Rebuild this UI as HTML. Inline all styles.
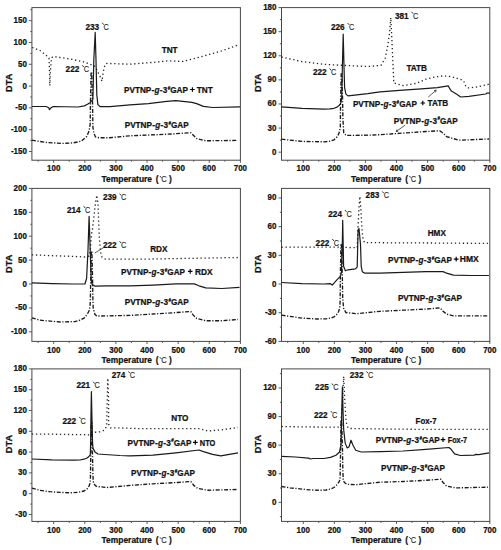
<!DOCTYPE html>
<html><head><meta charset="utf-8"><style>
html,body{margin:0;padding:0;background:#fff;}
svg{display:block;}
text{font-family:"Liberation Sans", sans-serif;fill:#111;font-weight:bold;stroke:#111;stroke-width:0.22;}
text.c{font-weight:normal;fill:#222;stroke:#222;stroke-width:0.1;}
</style></head><body>
<svg width="501" height="550" viewBox="0 0 501 550">
<rect width="501" height="550" fill="#fff"/>
<rect x="31.9" y="7.6" width="208.5" height="152.6" fill="none" stroke="#474747" stroke-width="1"/>
<text transform="translate(53.68,171.4) scale(1,1.08)" font-size="8" text-anchor="middle">100</text>
<text transform="translate(84.8,171.4) scale(1,1.08)" font-size="8" text-anchor="middle">200</text>
<text transform="translate(115.92,171.4) scale(1,1.08)" font-size="8" text-anchor="middle">300</text>
<text transform="translate(147.04,171.4) scale(1,1.08)" font-size="8" text-anchor="middle">400</text>
<text transform="translate(178.16,171.4) scale(1,1.08)" font-size="8" text-anchor="middle">500</text>
<text transform="translate(209.28,171.4) scale(1,1.08)" font-size="8" text-anchor="middle">600</text>
<text transform="translate(240.4,171.4) scale(1,1.08)" font-size="8" text-anchor="middle">700</text>
<text transform="translate(26.9,153.98) scale(1,1.08)" font-size="8" text-anchor="end">-150</text>
<text transform="translate(26.9,132.18) scale(1,1.08)" font-size="8" text-anchor="end">-100</text>
<text transform="translate(26.9,110.38) scale(1,1.08)" font-size="8" text-anchor="end">-50</text>
<text transform="translate(26.9,88.58) scale(1,1.08)" font-size="8" text-anchor="end">0</text>
<text transform="translate(26.9,66.78) scale(1,1.08)" font-size="8" text-anchor="end">50</text>
<text transform="translate(26.9,44.98) scale(1,1.08)" font-size="8" text-anchor="end">100</text>
<text transform="translate(26.9,23.18) scale(1,1.08)" font-size="8" text-anchor="end">150</text>
<path d="M38.12 160.2v1.5M53.68 160.2v2.6M69.24 160.2v1.5M84.8 160.2v2.6M100.36 160.2v1.5M115.92 160.2v2.6M131.48 160.2v1.5M147.04 160.2v2.6M162.6 160.2v1.5M178.16 160.2v2.6M193.72 160.2v1.5M209.28 160.2v2.6M224.84 160.2v1.5M240.4 160.2v2.6M28.9 151.48h3M28.9 129.68h3M28.9 107.88h3M28.9 86.08h3M28.9 64.28h3M28.9 42.48h3M28.9 20.68h3M30.3 140.58h1.6M30.3 118.78h1.6M30.3 96.98h1.6M30.3 75.18h1.6M30.3 53.38h1.6M30.3 31.58h1.6M30.3 9.78h1.6" stroke="#474747" stroke-width="0.9" fill="none"/>
<text transform="translate(101.55,182.2)" font-size="8.4" textLength="50.5" lengthAdjust="spacingAndGlyphs">Temperature</text>
<text transform="translate(155.75,182.2)" font-size="8.4">(</text>
<path d="M160.15 176.32L161.15 177.41" stroke="#222" stroke-width="0.95" stroke-linecap="round"/>
<text class="c" transform="translate(161.25,182.2) scale(0.9,1)" font-size="8.4">C</text>
<text transform="translate(169.05,182.2)" font-size="8.4">)</text>
<text transform="translate(11.5,82.8) rotate(-90)" font-size="9.2" text-anchor="middle">DTA</text>
<rect x="281.5" y="7.6" width="208.3" height="152.6" fill="none" stroke="#474747" stroke-width="1"/>
<text transform="translate(303.26,171.4) scale(1,1.08)" font-size="8" text-anchor="middle">100</text>
<text transform="translate(334.35,171.4) scale(1,1.08)" font-size="8" text-anchor="middle">200</text>
<text transform="translate(365.44,171.4) scale(1,1.08)" font-size="8" text-anchor="middle">300</text>
<text transform="translate(396.53,171.4) scale(1,1.08)" font-size="8" text-anchor="middle">400</text>
<text transform="translate(427.62,171.4) scale(1,1.08)" font-size="8" text-anchor="middle">500</text>
<text transform="translate(458.71,171.4) scale(1,1.08)" font-size="8" text-anchor="middle">600</text>
<text transform="translate(489.8,171.4) scale(1,1.08)" font-size="8" text-anchor="middle">700</text>
<text transform="translate(276.5,154.67) scale(1,1.08)" font-size="8" text-anchor="end">0</text>
<text transform="translate(276.5,130.57) scale(1,1.08)" font-size="8" text-anchor="end">30</text>
<text transform="translate(276.5,106.48) scale(1,1.08)" font-size="8" text-anchor="end">60</text>
<text transform="translate(276.5,82.38) scale(1,1.08)" font-size="8" text-anchor="end">90</text>
<text transform="translate(276.5,58.29) scale(1,1.08)" font-size="8" text-anchor="end">120</text>
<text transform="translate(276.5,34.19) scale(1,1.08)" font-size="8" text-anchor="end">150</text>
<text transform="translate(276.5,10.1) scale(1,1.08)" font-size="8" text-anchor="end">180</text>
<path d="M287.72 160.2v1.5M303.26 160.2v2.6M318.81 160.2v1.5M334.35 160.2v2.6M349.9 160.2v1.5M365.44 160.2v2.6M380.99 160.2v1.5M396.53 160.2v2.6M412.08 160.2v1.5M427.62 160.2v2.6M443.17 160.2v1.5M458.71 160.2v2.6M474.26 160.2v1.5M489.8 160.2v2.6M278.5 152.17h3M278.5 128.07h3M278.5 103.98h3M278.5 79.88h3M278.5 55.79h3M278.5 31.69h3M278.5 7.6h3M279.9 140.12h1.6M279.9 116.03h1.6M279.9 91.93h1.6M279.9 67.84h1.6M279.9 43.74h1.6M279.9 19.65h1.6" stroke="#474747" stroke-width="0.9" fill="none"/>
<text transform="translate(351.05,182.2)" font-size="8.4" textLength="50.5" lengthAdjust="spacingAndGlyphs">Temperature</text>
<text transform="translate(405.25,182.2)" font-size="8.4">(</text>
<path d="M409.65 176.32L410.65 177.41" stroke="#222" stroke-width="0.95" stroke-linecap="round"/>
<text class="c" transform="translate(410.75,182.2) scale(0.9,1)" font-size="8.4">C</text>
<text transform="translate(418.55,182.2)" font-size="8.4">)</text>
<text transform="translate(261.1,82.8) rotate(-90)" font-size="9.2" text-anchor="middle">DTA</text>
<rect x="31.9" y="188.4" width="208.5" height="153" fill="none" stroke="#474747" stroke-width="1"/>
<text transform="translate(53.68,352.9) scale(1,1.08)" font-size="8" text-anchor="middle">100</text>
<text transform="translate(84.8,352.9) scale(1,1.08)" font-size="8" text-anchor="middle">200</text>
<text transform="translate(115.92,352.9) scale(1,1.08)" font-size="8" text-anchor="middle">300</text>
<text transform="translate(147.04,352.9) scale(1,1.08)" font-size="8" text-anchor="middle">400</text>
<text transform="translate(178.16,352.9) scale(1,1.08)" font-size="8" text-anchor="middle">500</text>
<text transform="translate(209.28,352.9) scale(1,1.08)" font-size="8" text-anchor="middle">600</text>
<text transform="translate(240.4,352.9) scale(1,1.08)" font-size="8" text-anchor="middle">700</text>
<text transform="translate(26.9,334.34) scale(1,1.08)" font-size="8" text-anchor="end">-100</text>
<text transform="translate(26.9,310.43) scale(1,1.08)" font-size="8" text-anchor="end">-50</text>
<text transform="translate(26.9,286.52) scale(1,1.08)" font-size="8" text-anchor="end">0</text>
<text transform="translate(26.9,262.62) scale(1,1.08)" font-size="8" text-anchor="end">50</text>
<text transform="translate(26.9,238.71) scale(1,1.08)" font-size="8" text-anchor="end">100</text>
<text transform="translate(26.9,214.81) scale(1,1.08)" font-size="8" text-anchor="end">150</text>
<text transform="translate(26.9,190.9) scale(1,1.08)" font-size="8" text-anchor="end">200</text>
<path d="M38.12 341.4v1.5M53.68 341.4v2.6M69.24 341.4v1.5M84.8 341.4v2.6M100.36 341.4v1.5M115.92 341.4v2.6M131.48 341.4v1.5M147.04 341.4v2.6M162.6 341.4v1.5M178.16 341.4v2.6M193.72 341.4v1.5M209.28 341.4v2.6M224.84 341.4v1.5M240.4 341.4v2.6M28.9 331.84h3M28.9 307.93h3M28.9 284.02h3M28.9 260.12h3M28.9 236.21h3M28.9 212.31h3M28.9 188.4h3M30.3 319.88h1.6M30.3 295.98h1.6M30.3 272.07h1.6M30.3 248.17h1.6M30.3 224.26h1.6M30.3 200.35h1.6" stroke="#474747" stroke-width="0.9" fill="none"/>
<text transform="translate(101.55,363.4)" font-size="8.4" textLength="50.5" lengthAdjust="spacingAndGlyphs">Temperature</text>
<text transform="translate(155.75,363.4)" font-size="8.4">(</text>
<path d="M160.15 357.52L161.15 358.61" stroke="#222" stroke-width="0.95" stroke-linecap="round"/>
<text class="c" transform="translate(161.25,363.4) scale(0.9,1)" font-size="8.4">C</text>
<text transform="translate(169.05,363.4)" font-size="8.4">)</text>
<text transform="translate(11.5,263.8) rotate(-90)" font-size="9.2" text-anchor="middle">DTA</text>
<rect x="281.5" y="188.4" width="208.3" height="153" fill="none" stroke="#474747" stroke-width="1"/>
<text transform="translate(303.26,352.9) scale(1,1.08)" font-size="8" text-anchor="middle">100</text>
<text transform="translate(334.35,352.9) scale(1,1.08)" font-size="8" text-anchor="middle">200</text>
<text transform="translate(365.44,352.9) scale(1,1.08)" font-size="8" text-anchor="middle">300</text>
<text transform="translate(396.53,352.9) scale(1,1.08)" font-size="8" text-anchor="middle">400</text>
<text transform="translate(427.62,352.9) scale(1,1.08)" font-size="8" text-anchor="middle">500</text>
<text transform="translate(458.71,352.9) scale(1,1.08)" font-size="8" text-anchor="middle">600</text>
<text transform="translate(489.8,352.9) scale(1,1.08)" font-size="8" text-anchor="middle">700</text>
<text transform="translate(276.5,343.9) scale(1,1.08)" font-size="8" text-anchor="end">-60</text>
<text transform="translate(276.5,315.21) scale(1,1.08)" font-size="8" text-anchor="end">-30</text>
<text transform="translate(276.5,286.52) scale(1,1.08)" font-size="8" text-anchor="end">0</text>
<text transform="translate(276.5,257.84) scale(1,1.08)" font-size="8" text-anchor="end">30</text>
<text transform="translate(276.5,229.15) scale(1,1.08)" font-size="8" text-anchor="end">60</text>
<text transform="translate(276.5,200.46) scale(1,1.08)" font-size="8" text-anchor="end">90</text>
<path d="M287.72 341.4v1.5M303.26 341.4v2.6M318.81 341.4v1.5M334.35 341.4v2.6M349.9 341.4v1.5M365.44 341.4v2.6M380.99 341.4v1.5M396.53 341.4v2.6M412.08 341.4v1.5M427.62 341.4v2.6M443.17 341.4v1.5M458.71 341.4v2.6M474.26 341.4v1.5M489.8 341.4v2.6M278.5 341.4h3M278.5 312.71h3M278.5 284.02h3M278.5 255.34h3M278.5 226.65h3M278.5 197.96h3M279.9 327.06h1.6M279.9 298.37h1.6M279.9 269.68h1.6M279.9 240.99h1.6M279.9 212.31h1.6" stroke="#474747" stroke-width="0.9" fill="none"/>
<text transform="translate(351.05,363.4)" font-size="8.4" textLength="50.5" lengthAdjust="spacingAndGlyphs">Temperature</text>
<text transform="translate(405.25,363.4)" font-size="8.4">(</text>
<path d="M409.65 357.52L410.65 358.61" stroke="#222" stroke-width="0.95" stroke-linecap="round"/>
<text class="c" transform="translate(410.75,363.4) scale(0.9,1)" font-size="8.4">C</text>
<text transform="translate(418.55,363.4)" font-size="8.4">)</text>
<text transform="translate(261.1,263.8) rotate(-90)" font-size="9.2" text-anchor="middle">DTA</text>
<rect x="31.9" y="368.9" width="208.5" height="152.5" fill="none" stroke="#474747" stroke-width="1"/>
<text transform="translate(53.68,533.2) scale(1,1.08)" font-size="8" text-anchor="middle">100</text>
<text transform="translate(84.8,533.2) scale(1,1.08)" font-size="8" text-anchor="middle">200</text>
<text transform="translate(115.92,533.2) scale(1,1.08)" font-size="8" text-anchor="middle">300</text>
<text transform="translate(147.04,533.2) scale(1,1.08)" font-size="8" text-anchor="middle">400</text>
<text transform="translate(178.16,533.2) scale(1,1.08)" font-size="8" text-anchor="middle">500</text>
<text transform="translate(209.28,533.2) scale(1,1.08)" font-size="8" text-anchor="middle">600</text>
<text transform="translate(240.4,533.2) scale(1,1.08)" font-size="8" text-anchor="middle">700</text>
<text transform="translate(26.9,516.97) scale(1,1.08)" font-size="8" text-anchor="end">-30</text>
<text transform="translate(26.9,496.17) scale(1,1.08)" font-size="8" text-anchor="end">0</text>
<text transform="translate(26.9,475.38) scale(1,1.08)" font-size="8" text-anchor="end">30</text>
<text transform="translate(26.9,454.58) scale(1,1.08)" font-size="8" text-anchor="end">60</text>
<text transform="translate(26.9,433.79) scale(1,1.08)" font-size="8" text-anchor="end">90</text>
<text transform="translate(26.9,412.99) scale(1,1.08)" font-size="8" text-anchor="end">120</text>
<text transform="translate(26.9,392.2) scale(1,1.08)" font-size="8" text-anchor="end">150</text>
<text transform="translate(26.9,371.4) scale(1,1.08)" font-size="8" text-anchor="end">180</text>
<path d="M38.12 521.4v1.5M53.68 521.4v2.6M69.24 521.4v1.5M84.8 521.4v2.6M100.36 521.4v1.5M115.92 521.4v2.6M131.48 521.4v1.5M147.04 521.4v2.6M162.6 521.4v1.5M178.16 521.4v2.6M193.72 521.4v1.5M209.28 521.4v2.6M224.84 521.4v1.5M240.4 521.4v2.6M28.9 514.47h3M28.9 493.67h3M28.9 472.88h3M28.9 452.08h3M28.9 431.29h3M28.9 410.49h3M28.9 389.7h3M28.9 368.9h3M30.3 504.07h1.6M30.3 483.27h1.6M30.3 462.48h1.6M30.3 441.68h1.6M30.3 420.89h1.6M30.3 400.09h1.6M30.3 379.3h1.6" stroke="#474747" stroke-width="0.9" fill="none"/>
<text transform="translate(101.55,543.4)" font-size="8.4" textLength="50.5" lengthAdjust="spacingAndGlyphs">Temperature</text>
<text transform="translate(155.75,543.4)" font-size="8.4">(</text>
<path d="M160.15 537.52L161.15 538.61" stroke="#222" stroke-width="0.95" stroke-linecap="round"/>
<text class="c" transform="translate(161.25,543.4) scale(0.9,1)" font-size="8.4">C</text>
<text transform="translate(169.05,543.4)" font-size="8.4">)</text>
<text transform="translate(11.5,444.05) rotate(-90)" font-size="9.2" text-anchor="middle">DTA</text>
<rect x="281.5" y="368.9" width="208.3" height="152.5" fill="none" stroke="#474747" stroke-width="1"/>
<text transform="translate(303.26,533.2) scale(1,1.08)" font-size="8" text-anchor="middle">100</text>
<text transform="translate(334.35,533.2) scale(1,1.08)" font-size="8" text-anchor="middle">200</text>
<text transform="translate(365.44,533.2) scale(1,1.08)" font-size="8" text-anchor="middle">300</text>
<text transform="translate(396.53,533.2) scale(1,1.08)" font-size="8" text-anchor="middle">400</text>
<text transform="translate(427.62,533.2) scale(1,1.08)" font-size="8" text-anchor="middle">500</text>
<text transform="translate(458.71,533.2) scale(1,1.08)" font-size="8" text-anchor="middle">600</text>
<text transform="translate(489.8,533.2) scale(1,1.08)" font-size="8" text-anchor="middle">700</text>
<text transform="translate(276.5,504.84) scale(1,1.08)" font-size="8" text-anchor="end">0</text>
<text transform="translate(276.5,476.24) scale(1,1.08)" font-size="8" text-anchor="end">30</text>
<text transform="translate(276.5,447.65) scale(1,1.08)" font-size="8" text-anchor="end">60</text>
<text transform="translate(276.5,419.06) scale(1,1.08)" font-size="8" text-anchor="end">90</text>
<text transform="translate(276.5,390.46) scale(1,1.08)" font-size="8" text-anchor="end">120</text>
<path d="M287.72 521.4v1.5M303.26 521.4v2.6M318.81 521.4v1.5M334.35 521.4v2.6M349.9 521.4v1.5M365.44 521.4v2.6M380.99 521.4v1.5M396.53 521.4v2.6M412.08 521.4v1.5M427.62 521.4v2.6M443.17 521.4v1.5M458.71 521.4v2.6M474.26 521.4v1.5M489.8 521.4v2.6M278.5 502.34h3M278.5 473.74h3M278.5 445.15h3M278.5 416.56h3M278.5 387.96h3M279.9 516.63h1.6M279.9 488.04h1.6M279.9 459.45h1.6M279.9 430.85h1.6M279.9 402.26h1.6M279.9 373.67h1.6" stroke="#474747" stroke-width="0.9" fill="none"/>
<text transform="translate(351.05,543.4)" font-size="8.4" textLength="50.5" lengthAdjust="spacingAndGlyphs">Temperature</text>
<text transform="translate(405.25,543.4)" font-size="8.4">(</text>
<path d="M409.65 537.52L410.65 538.61" stroke="#222" stroke-width="0.95" stroke-linecap="round"/>
<text class="c" transform="translate(410.75,543.4) scale(0.9,1)" font-size="8.4">C</text>
<text transform="translate(418.55,543.4)" font-size="8.4">)</text>
<text transform="translate(261.1,444.05) rotate(-90)" font-size="9.2" text-anchor="middle">DTA</text>
<path d="M32.2 47.5 L40 50.5 L47.6 56.5 L49 58 L49.5 70 L49.8 85.7 L50.5 70 L51.5 58 L53 56.5 L60 57.5 L70 59 L82.6 61.5 L89.5 64 L95.5 66.6 L97.2 70.9 L100.3 76.9 L102 81.2 L103.3 71.7 L105 64.8 L106.7 63.4 L130 64.2 L153 62.4 L169 60.8 L182.8 61.5 L198.9 57.3 L221.8 50.9 L239.5 44.5" stroke="#222" stroke-width="1.3" stroke-dasharray="1.3 2.7" fill="none"/>
<path d="M31.9 106.5 L46 106.5 L48.8 107.8 L49.5 109.7 L50.8 108.1 L53.2 106.5 L77.9 107 L84.3 105.9 L87.5 104.3 L90.3 102.4 L92.9 99.3 L93.8 60 L95.2 32.4 L96 60 L96.8 95 L97.9 104.6 L100.3 106.7 L110 106.7 L130 104.8 L148.4 103.6 L166.7 101.3 L175.9 100.7 L192 102.3 L196.6 103.6 L203.4 106.4 L212.6 107.5 L240 106.9" stroke="#1a1a1a" stroke-width="1.2" fill="none" stroke-linejoin="round"/>
<path d="M31.9 140.2 L46 142.4 L62 143.4 L73.1 142.9 L81.1 141.3 L86.7 136.5 L89.1 131 L90.2 123.8 L90.5 100 L91.1 72 L91.7 72 L92.5 100 L92.9 127 L93.9 133.3 L95.5 136.9 L98.7 137.7 L110 137.7 L130 135.8 L164.4 134.4 L190.8 132.8 L193.1 135.1 L196.6 138.5 L205.7 140.8 L237.9 140.4" stroke="#1a1a1a" stroke-width="1.35" stroke-dasharray="4 1.6 1.2 1.6" fill="none"/>
<text transform="translate(85.5,29.59) scale(1,1.12)" font-size="8.2">233</text>
<path d="M102.48 23.16L103.48 24.35" stroke="#222" stroke-width="0.95" stroke-linecap="round"/>
<text class="c" transform="translate(103.58,29.59) scale(0.9,1.12)" font-size="8.2">C</text>
<text transform="translate(65.6,71.99) scale(1,1.12)" font-size="8.2">222</text>
<path d="M82.58 65.56L83.58 66.75" stroke="#222" stroke-width="0.95" stroke-linecap="round"/>
<text class="c" transform="translate(83.68,71.99) scale(0.9,1.12)" font-size="8.2">C</text>
<text transform="translate(161.7,53.09) scale(1,1.12)" font-size="8.2">TNT</text>
<text transform="translate(124,92.89) scale(1,1.12)" font-size="8.2">PVTNP<tspan dx="0.25">-</tspan><tspan dx="0.25" font-style="italic">g</tspan><tspan dx="0.25">-</tspan><tspan dx="0.25">3</tspan><tspan dx="0.4" font-size="4.51" dy="-3">#</tspan><tspan dy="3">GAP</tspan></text>
<path d="M190.1 89.5h4.6M192.4 87.2v4.6" stroke="#000" stroke-width="1.15" fill="none"/>
<text transform="translate(196.8,92.79) scale(1,1.12)" font-size="8.2" textLength="16" lengthAdjust="spacingAndGlyphs">TNT</text>
<text transform="translate(124.7,127.99) scale(1,1.12)" font-size="8.2">PVTNP<tspan dx="0.25">-</tspan><tspan dx="0.25" font-style="italic">g</tspan><tspan dx="0.25">-</tspan><tspan dx="0.25">3</tspan><tspan dx="0.4" font-size="4.51" dy="-3">#</tspan><tspan dy="3">GAP</tspan></text>
<path d="M281.5 57 L302 61.6 L323.9 64.3 L343.7 65.4 L367.8 66.5 L381 65.4 L385.4 57.7 L388 44 L389.6 32.5 L390.8 17.6 L391.4 30 L392 41.7 L393.8 83 L403 85.6 L416.7 83.3 L425.9 79.2 L435 77 L443 75.9 L450 76.5 L456 78 L462 80 L463.8 81 L465 85 L467.6 87.9 L475.4 87.3 L482 85.8 L489.7 84" stroke="#222" stroke-width="1.3" stroke-dasharray="1.3 2.7" fill="none"/>
<path d="M281.5 106.9 L302 108.4 L323.9 109.1 L330 108.9 L334 108.3 L337 107.1 L339.3 105.3 L340.8 103 L341.7 99 L342.3 70 L343.2 34.2 L344.1 70 L344.6 87.6 L345.9 94.1 L348 95.9 L367.8 93.7 L380 91.8 L403 90.2 L421.3 88.8 L437.4 87.7 L448.2 85.9 L450.1 89.2 L451.4 91.1 L457.9 95 L460.5 97 L468.9 96.3 L485.8 94 L487 93.1 L489.7 93.1" stroke="#1a1a1a" stroke-width="1.2" fill="none" stroke-linejoin="round"/>
<path d="M281.5 139.2 L302 141.4 L323.9 141.8 L330 141.2 L334 139.8 L336.5 137.5 L338.4 134.7 L339.6 131.5 L340.3 127 L340.4 118 L340.6 100 L341.2 74 L341.8 74 L342.6 100 L342.9 118 L343.7 132.6 L345.9 135.4 L367.8 135.2 L380 134.7 L403 133.1 L425.9 131.5 L439.7 130.8 L443.1 133.1 L446.6 136.6 L458.8 140.2 L489 139" stroke="#1a1a1a" stroke-width="1.35" stroke-dasharray="4 1.6 1.2 1.6" fill="none"/>
<text transform="translate(331,29.79) scale(1,1.12)" font-size="8.2">226</text>
<path d="M347.98 23.36L348.98 24.55" stroke="#222" stroke-width="0.95" stroke-linecap="round"/>
<text class="c" transform="translate(349.08,29.79) scale(0.9,1.12)" font-size="8.2">C</text>
<text transform="translate(313,75.29) scale(1,1.12)" font-size="8.2">222</text>
<path d="M329.98 68.86L330.98 70.05" stroke="#222" stroke-width="0.95" stroke-linecap="round"/>
<text class="c" transform="translate(331.08,75.29) scale(0.9,1.12)" font-size="8.2">C</text>
<text transform="translate(394.9,18.59) scale(1,1.12)" font-size="8.2">381</text>
<path d="M411.88 12.16L412.88 13.35" stroke="#222" stroke-width="0.95" stroke-linecap="round"/>
<text class="c" transform="translate(412.98,18.59) scale(0.9,1.12)" font-size="8.2">C</text>
<text transform="translate(406.4,71.39) scale(1,1.12)" font-size="8.2">TATB</text>
<text transform="translate(352.9,106.99) scale(1,1.12)" font-size="8.2">PVTNP<tspan dx="0.25">-</tspan><tspan dx="0.25" font-style="italic">g</tspan><tspan dx="0.25">-</tspan><tspan dx="0.25">3</tspan><tspan dx="0.4" font-size="4.51" dy="-3">#</tspan><tspan dy="3">GAP</tspan></text>
<path d="M420.5 103h4.6M422.8 100.7v4.6" stroke="#000" stroke-width="1.15" fill="none"/>
<text transform="translate(427.6,106.09) scale(1,1.12)" font-size="8.2" textLength="20.6" lengthAdjust="spacingAndGlyphs">TATB</text>
<text transform="translate(393.7,123.59) scale(1,1.12)" font-size="8.2">PVTNP<tspan dx="0.25">-</tspan><tspan dx="0.25" font-style="italic">g</tspan><tspan dx="0.25">-</tspan><tspan dx="0.25">3</tspan><tspan dx="0.4" font-size="4.51" dy="-3">#</tspan><tspan dy="3">GAP</tspan></text>
<line x1="428.2" y1="97.1" x2="436.2" y2="90.2" stroke="#333" stroke-width="0.8" fill="none"/>
<line x1="436.2" y1="90.2" x2="435.51" y2="92.29" stroke="#333" stroke-width="0.8" fill="none"/>
<line x1="436.2" y1="90.2" x2="434.03" y2="90.57" stroke="#333" stroke-width="0.8" fill="none"/>
<line x1="405.2" y1="125.1" x2="396.1" y2="131.5" stroke="#333" stroke-width="0.8" fill="none"/>
<line x1="396.1" y1="131.5" x2="396.99" y2="129.49" stroke="#333" stroke-width="0.8" fill="none"/>
<line x1="396.1" y1="131.5" x2="398.29" y2="131.34" stroke="#333" stroke-width="0.8" fill="none"/>
<path d="M31.9 254.8 L52 255.7 L73.9 256.4 L84.9 257 L89 256 L90.3 250.5 L91.3 235.9 L92.5 228.6 L93.9 217 L95.4 203.9 L96.8 195.2 L98 203.9 L98.6 221.4 L99.4 238.8 L100.5 251.9 L101.9 257 L105.5 259.2 L140 259.2 L175 258.6 L210 258 L238 257.5" stroke="#222" stroke-width="1.3" stroke-dasharray="1.3 2.7" fill="none"/>
<path d="M31.9 282.9 L52 283.6 L73.9 284 L84.9 284 L86.6 278.5 L88 250 L89.1 216.3 L90.2 250 L91.2 280 L91.9 284 L94.8 286.2 L106.8 285.8 L130 285.8 L153 285.1 L175.9 283.9 L194.3 283.9 L198.9 285.8 L205.7 287.8 L221.8 288.5 L239.5 287.4" stroke="#1a1a1a" stroke-width="1.2" fill="none" stroke-linejoin="round"/>
<path d="M31.9 317.8 L40 320.2 L60 322 L75 321.6 L80 320.2 L84 318.1 L87 314.6 L89 311.1 L90 306.9 L90.4 298 L90.7 280 L91.3 251 L91.9 251 L92.6 280 L92.9 300 L93.2 308.3 L95 314.6 L97 316 L106.8 315.9 L130 315.4 L153 314 L175.9 312.6 L190.8 311.5 L193.1 314.9 L196.6 318.4 L205.7 320.7 L221.8 320.7 L238 319.5" stroke="#1a1a1a" stroke-width="1.35" stroke-dasharray="4 1.6 1.2 1.6" fill="none"/>
<text transform="translate(102.9,200.39) scale(1,1.12)" font-size="8.2">239</text>
<path d="M119.88 193.96L120.88 195.15" stroke="#222" stroke-width="0.95" stroke-linecap="round"/>
<text class="c" transform="translate(120.98,200.39) scale(0.9,1.12)" font-size="8.2">C</text>
<text transform="translate(66.9,212.89) scale(1,1.12)" font-size="8.2">214</text>
<path d="M83.88 206.46L84.88 207.65" stroke="#222" stroke-width="0.95" stroke-linecap="round"/>
<text class="c" transform="translate(84.98,212.89) scale(0.9,1.12)" font-size="8.2">C</text>
<text transform="translate(102.9,247.99) scale(1,1.12)" font-size="8.2">222</text>
<path d="M119.88 241.56L120.88 242.75" stroke="#222" stroke-width="0.95" stroke-linecap="round"/>
<text class="c" transform="translate(120.98,247.99) scale(0.9,1.12)" font-size="8.2">C</text>
<line x1="94.6" y1="253.1" x2="103.4" y2="247.8" stroke="#333" stroke-width="0.8" fill="none"/>
<text transform="translate(150.2,252.09) scale(1,1.12)" font-size="8.2">RDX</text>
<text transform="translate(121.1,274.89) scale(1,1.12)" font-size="8.2">PVTNP<tspan dx="0.25">-</tspan><tspan dx="0.25" font-style="italic">g</tspan><tspan dx="0.25">-</tspan><tspan dx="0.25">3</tspan><tspan dx="0.4" font-size="4.51" dy="-3">#</tspan><tspan dy="3">GAP</tspan></text>
<path d="M187.9 271.4h4.6M190.2 269.1v4.6" stroke="#000" stroke-width="1.15" fill="none"/>
<text transform="translate(195,274.59) scale(1,1.12)" font-size="8.2" textLength="17.6" lengthAdjust="spacingAndGlyphs">RDX</text>
<text transform="translate(124.7,304.99) scale(1,1.12)" font-size="8.2">PVTNP<tspan dx="0.25">-</tspan><tspan dx="0.25" font-style="italic">g</tspan><tspan dx="0.25">-</tspan><tspan dx="0.25">3</tspan><tspan dx="0.4" font-size="4.51" dy="-3">#</tspan><tspan dy="3">GAP</tspan></text>
<path d="M281.5 247.1 L302 247.1 L334.9 247.1 L357.2 247.7 L358.1 226.3 L359 208.1 L359.9 196.4 L360.8 208.1 L361.8 226.3 L362.7 237.2 L364.5 242.6 L390 242.8 L430 243 L488 243.4" stroke="#222" stroke-width="1.3" stroke-dasharray="1.3 2.7" fill="none"/>
<path d="M281.5 282.5 L302 283.6 L323.9 284 L330.1 283.6 L332.3 285.1 L333.8 283.4 L337.1 279.6 L340.4 276.3 L341.5 272 L342.4 240 L342.7 220.3 L343.2 245 L343.6 266.2 L345.4 270.7 L348.1 269.8 L355.4 268.9 L357.2 267.1 L358.1 229.9 L359 228.5 L360.5 244.4 L361.2 266.2 L362.3 271.7 L364.5 273.1 L380 273.2 L403 272.3 L425.9 271.6 L443.1 271.6 L446.6 273.2 L453.4 275.1 L471.8 275.5 L489 275.5" stroke="#1a1a1a" stroke-width="1.2" fill="none" stroke-linejoin="round"/>
<path d="M281.5 315.2 L302 318.1 L317.3 319 L326 318.8 L331 318 L334 316.8 L336.5 314.8 L338.5 311.8 L339.7 308.3 L340.2 300 L340.3 280 L340.9 245 L341.5 245 L342.4 280 L342.7 298 L343.6 308.2 L345.9 312.6 L356.8 313.7 L380 311.3 L403 310.2 L425.9 309.1 L440.1 307.9 L443.1 311.3 L446.6 314.1 L453.4 315.9 L488 315.9" stroke="#1a1a1a" stroke-width="1.35" stroke-dasharray="4 1.6 1.2 1.6" fill="none"/>
<text transform="translate(365.6,198.19) scale(1,1.12)" font-size="8.2">283</text>
<path d="M382.58 191.76L383.58 192.95" stroke="#222" stroke-width="0.95" stroke-linecap="round"/>
<text class="c" transform="translate(383.68,198.19) scale(0.9,1.12)" font-size="8.2">C</text>
<text transform="translate(328.3,216.79) scale(1,1.12)" font-size="8.2">224</text>
<path d="M345.28 210.36L346.28 211.55" stroke="#222" stroke-width="0.95" stroke-linecap="round"/>
<text class="c" transform="translate(346.38,216.79) scale(0.9,1.12)" font-size="8.2">C</text>
<text transform="translate(315.6,245.79) scale(1,1.12)" font-size="8.2">222</text>
<path d="M332.58 239.36L333.58 240.55" stroke="#222" stroke-width="0.95" stroke-linecap="round"/>
<text class="c" transform="translate(333.68,245.79) scale(0.9,1.12)" font-size="8.2">C</text>
<text transform="translate(427.7,235.89) scale(1,1.12)" font-size="8.2">HMX</text>
<text transform="translate(388,263.09) scale(1,1.12)" font-size="8.2">PVTNP<tspan dx="0.25">-</tspan><tspan dx="0.25" font-style="italic">g</tspan><tspan dx="0.25">-</tspan><tspan dx="0.25">3</tspan><tspan dx="0.4" font-size="4.51" dy="-3">#</tspan><tspan dy="3">GAP</tspan></text>
<path d="M453.9 259.1h4.6M456.2 256.8v4.6" stroke="#000" stroke-width="1.15" fill="none"/>
<text transform="translate(459.8,262.29) scale(1,1.12)" font-size="8.2" textLength="18.9" lengthAdjust="spacingAndGlyphs">HMX</text>
<text transform="translate(397.9,301.29) scale(1,1.12)" font-size="8.2">PVTNP<tspan dx="0.25">-</tspan><tspan dx="0.25" font-style="italic">g</tspan><tspan dx="0.25">-</tspan><tspan dx="0.25">3</tspan><tspan dx="0.4" font-size="4.51" dy="-3">#</tspan><tspan dy="3">GAP</tspan></text>
<path d="M31.9 434.2 L52 434.2 L89.3 434.8 L91.4 432.6 L101 431.7 L104.8 429.8 L106.7 426 L107.2 400 L107.8 378.3 L108.6 400 L108.6 424 L110.5 427.9 L120 427.9 L140 428.7 L198.9 428.7 L203.4 429.8 L208 431 L221.8 429.8 L238 427.5" stroke="#222" stroke-width="1.3" stroke-dasharray="1.3 2.7" fill="none"/>
<path d="M31.9 459 L52 459.8 L73.9 460.1 L80 460 L84 459.2 L87 458 L89 456.5 L90.3 454.5 L90.7 440 L90.9 420 L91.4 391.7 L92 420 L92.5 441.2 L93 448.4 L95 451.9 L98 454 L104.8 454.5 L120 455.5 L130 455.8 L153 455.1 L175.9 452.8 L198.9 450 L203.4 451.6 L212.6 454.4 L220.7 455.8 L238 452.8" stroke="#1a1a1a" stroke-width="1.2" fill="none" stroke-linejoin="round"/>
<path d="M31.9 488.2 L40 490.3 L50 491.7 L60 492.4 L70 492.8 L78 492.4 L84 491 L87 488.9 L89 486.1 L90 483.3 L90.4 479 L90.7 460 L91.3 423 L91.9 423 L92.6 460 L92.9 474 L93.2 481.2 L94 484 L96 486.1 L100 486.8 L106.8 487.5 L130 485.4 L153 483.8 L175.9 482.6 L190.8 481.5 L193.8 485.4 L197.7 488.4 L208 490.2 L238 489.5" stroke="#1a1a1a" stroke-width="1.35" stroke-dasharray="4 1.6 1.2 1.6" fill="none"/>
<text transform="translate(111.7,378.19) scale(1,1.12)" font-size="8.2">274</text>
<path d="M128.68 371.76L129.68 372.95" stroke="#222" stroke-width="0.95" stroke-linecap="round"/>
<text class="c" transform="translate(129.78,378.19) scale(0.9,1.12)" font-size="8.2">C</text>
<text transform="translate(76.5,388.49) scale(1,1.12)" font-size="8.2">221</text>
<path d="M93.48 382.06L94.48 383.25" stroke="#222" stroke-width="0.95" stroke-linecap="round"/>
<text class="c" transform="translate(94.58,388.49) scale(0.9,1.12)" font-size="8.2">C</text>
<text transform="translate(62.5,423.59) scale(1,1.12)" font-size="8.2">222</text>
<path d="M79.48 417.16L80.48 418.35" stroke="#222" stroke-width="0.95" stroke-linecap="round"/>
<text class="c" transform="translate(80.58,423.59) scale(0.9,1.12)" font-size="8.2">C</text>
<text transform="translate(171.3,420.99) scale(1,1.12)" font-size="8.2">NTO</text>
<text transform="translate(127.5,445.79) scale(1,1.12)" font-size="8.2">PVTNP<tspan dx="0.25">-</tspan><tspan dx="0.25" font-style="italic">g</tspan><tspan dx="0.25">-</tspan><tspan dx="0.25">3</tspan><tspan dx="0.4" font-size="4.51" dy="-3">#</tspan><tspan dy="3">GAP</tspan></text>
<path d="M193 442.4h4.6M195.3 440.1v4.6" stroke="#000" stroke-width="1.15" fill="none"/>
<text transform="translate(199.8,445.69) scale(1,1.12)" font-size="8.2" textLength="15.5" lengthAdjust="spacingAndGlyphs">NTO</text>
<text transform="translate(131.1,476.39) scale(1,1.12)" font-size="8.2">PVTNP<tspan dx="0.25">-</tspan><tspan dx="0.25" font-style="italic">g</tspan><tspan dx="0.25">-</tspan><tspan dx="0.25">3</tspan><tspan dx="0.4" font-size="4.51" dy="-3">#</tspan><tspan dy="3">GAP</tspan></text>
<path d="M281.5 426.5 L302 426.9 L339.3 427.2 L340.5 426.9 L342.4 403.1 L343.7 376.4 L344.9 403.1 L346.2 422.1 L348.1 427.9 L350.3 428.5 L390 429.1 L430 429.4 L488 429.4" stroke="#222" stroke-width="1.3" stroke-dasharray="1.3 2.7" fill="none"/>
<path d="M281.5 456.3 L295.4 457 L308.5 458.1 L310.7 459 L312.9 458.5 L323.9 458.5 L330.5 457.4 L336 455.2 L339.5 452 L341 445 L341.8 410 L342.4 386.9 L343 410 L343.7 429.8 L345.2 443.1 L347.1 447.9 L349 446.9 L351 440.2 L352.9 445 L355.7 450.2 L361.2 452 L380 451.6 L403 451 L425.9 449.3 L448.9 447.5 L451.1 449.3 L454.6 453.9 L460.3 455.5 L474.1 455.1 L475.9 454.4 L478.7 454.6 L489 452.8" stroke="#1a1a1a" stroke-width="1.2" fill="none" stroke-linejoin="round"/>
<path d="M281.5 486.5 L290 487.8 L300 488.9 L310 489.9 L320 490.3 L326 490 L330 489.2 L334 487.5 L337 484.7 L339 481.9 L340 479.8 L340.3 468 L340.6 450 L341.1 420 L341.7 420 L342.5 450 L342.8 468 L343.2 480.5 L344.5 482.6 L347 484.4 L356.8 484.6 L380 482.2 L403 481.5 L425.9 480.3 L440.8 479.2 L443.1 482.6 L446.6 486.1 L455.7 487.9 L488 487.2" stroke="#1a1a1a" stroke-width="1.35" stroke-dasharray="4 1.6 1.2 1.6" fill="none"/>
<text transform="translate(349.8,378.19) scale(1,1.12)" font-size="8.2">232</text>
<path d="M366.78 371.76L367.78 372.95" stroke="#222" stroke-width="0.95" stroke-linecap="round"/>
<text class="c" transform="translate(367.88,378.19) scale(0.9,1.12)" font-size="8.2">C</text>
<text transform="translate(315.1,390.29) scale(1,1.12)" font-size="8.2">225</text>
<path d="M332.08 383.86L333.08 385.05" stroke="#222" stroke-width="0.95" stroke-linecap="round"/>
<text class="c" transform="translate(333.18,390.29) scale(0.9,1.12)" font-size="8.2">C</text>
<text transform="translate(314,417.69) scale(1,1.12)" font-size="8.2">222</text>
<path d="M330.98 411.26L331.98 412.45" stroke="#222" stroke-width="0.95" stroke-linecap="round"/>
<text class="c" transform="translate(332.08,417.69) scale(0.9,1.12)" font-size="8.2">C</text>
<text transform="translate(415.6,424.27) scale(1,1.12)" font-size="7.9">Fox-7</text>
<text transform="translate(375.8,443.09) scale(1,1.12)" font-size="8.2">PVTNP<tspan dx="0.25">-</tspan><tspan dx="0.25" font-style="italic">g</tspan><tspan dx="0.25">-</tspan><tspan dx="0.25">3</tspan><tspan dx="0.4" font-size="4.51" dy="-3">#</tspan><tspan dy="3">GAP</tspan></text>
<path d="M440.7 439.6h4.6M443 437.3v4.6" stroke="#000" stroke-width="1.15" fill="none"/>
<text transform="translate(447.7,443.29) scale(1,1.12)" font-size="8.2" textLength="19.4" lengthAdjust="spacingAndGlyphs">Fox-7</text>
<text transform="translate(381,470.89) scale(1,1.12)" font-size="8.2">PVTNP<tspan dx="0.25">-</tspan><tspan dx="0.25" font-style="italic">g</tspan><tspan dx="0.25">-</tspan><tspan dx="0.25">3</tspan><tspan dx="0.4" font-size="4.51" dy="-3">#</tspan><tspan dy="3">GAP</tspan></text>
</svg>
</body></html>
